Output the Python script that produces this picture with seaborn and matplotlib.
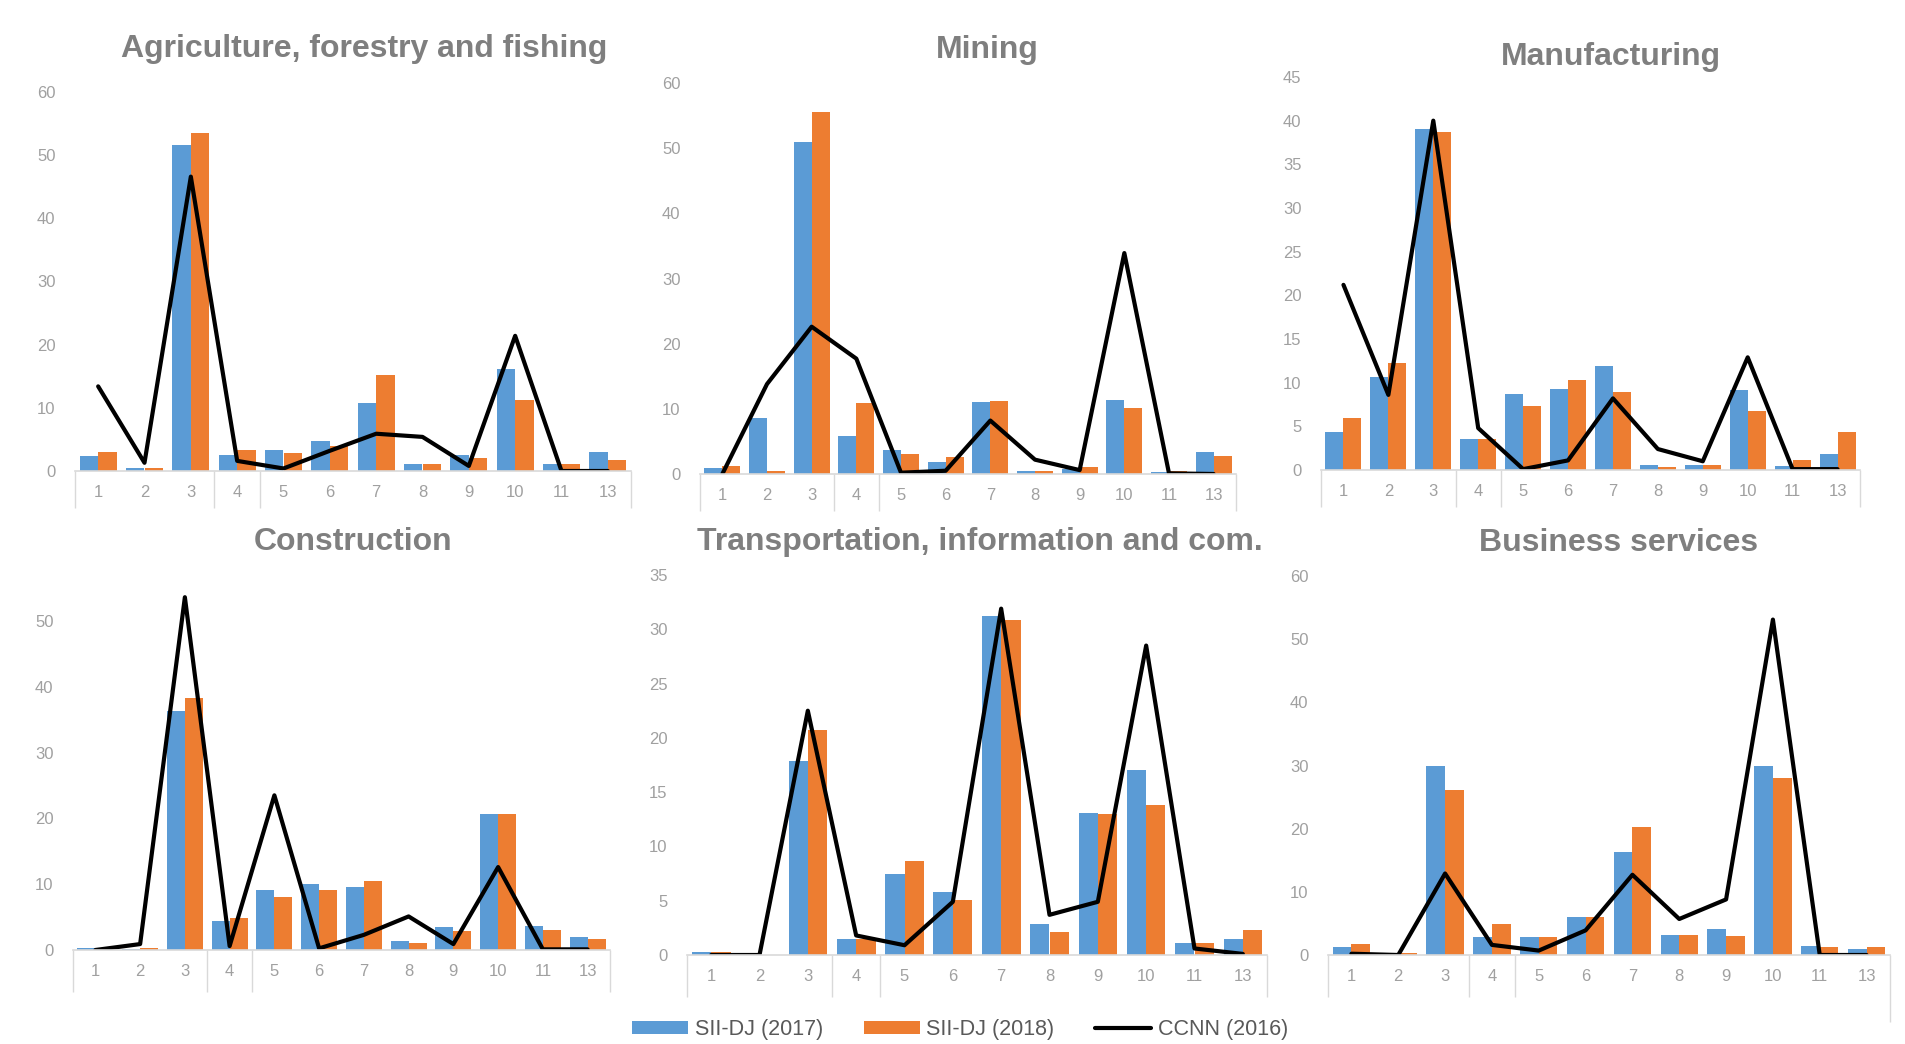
import seaborn as sns
import matplotlib.pyplot as plt
import pandas as pd

# categories on the x axis (12 is absent in the source)
cats = ['1', '2', '3', '4', '5', '6', '7', '8', '9', '10', '11', '13']

agri_2017 = [2.4, 0.5, 51.6, 2.5, 3.3, 4.7, 10.7, 1.1, 2.5, 16.2, 1.1, 3.0]
agri_2018 = [3.0, 0.5, 53.5, 3.3, 2.8, 4.0, 15.2, 1.1, 2.1, 11.2, 1.1, 1.7]
agri_ccnn = [13.4, 1.3, 46.6, 1.6, 0.4, 3.2, 5.9, 5.4, 0.8, 21.4, 0.0, 0.0]

mining_2017 = [0.9, 8.6, 50.9, 5.8, 3.7, 1.9, 11.0, 0.4, 0.8, 11.4, 0.3, 3.3]
mining_2018 = [1.3, 0.5, 55.5, 10.9, 3.1, 2.6, 11.2, 0.4, 1.0, 10.1, 0.4, 2.7]
mining_ccnn = [0.0, 13.8, 22.6, 17.7, 0.2, 0.5, 8.2, 2.2, 0.6, 33.9, 0.1, 0.0]

manuf_2017 = [4.4, 10.6, 39.0, 3.5, 8.7, 9.3, 11.9, 0.6, 0.6, 9.2, 0.5, 1.8]
manuf_2018 = [5.9, 12.2, 38.7, 3.5, 7.3, 10.3, 8.9, 0.4, 0.6, 6.7, 1.1, 4.3]
manuf_ccnn = [21.2, 8.6, 40.0, 4.8, 0.1, 1.1, 8.2, 2.4, 1.0, 12.9, 0.1, 0.1]

constr_2017 = [0.35, 0.1, 36.3, 4.4, 9.1, 10.1, 9.5, 1.3, 3.5, 20.7, 3.7, 2.0]
constr_2018 = [0.0, 0.25, 38.3, 4.8, 8.0, 9.1, 10.5, 1.1, 2.9, 20.7, 3.1, 1.7]
constr_ccnn = [0.0, 0.9, 53.6, 0.6, 23.5, 0.25, 2.3, 5.1, 0.9, 12.6, 0.1, 0.1]

transp_2017 = [0.3, 0.0, 17.9, 1.5, 7.5, 5.8, 31.2, 2.9, 13.1, 17.0, 1.1, 1.5]
transp_2018 = [0.3, 0.0, 20.7, 1.5, 8.7, 5.1, 30.9, 2.1, 13.0, 13.8, 1.1, 2.3]
transp_ccnn = [0.0, 0.0, 22.5, 1.8, 0.9, 4.9, 31.9, 3.7, 4.9, 28.5, 0.6, 0.1]

bus_2017 = [1.3, 0.0, 29.9, 2.8, 2.8, 6.0, 16.3, 3.2, 4.1, 30.0, 1.4, 0.9]
bus_2018 = [1.7, 0.3, 26.1, 4.9, 2.9, 6.0, 20.3, 3.2, 3.0, 28.1, 1.2, 1.2]
bus_ccnn = [0.2, 0.0, 12.9, 1.6, 0.7, 3.9, 12.7, 5.7, 8.8, 53.1, 0.0, 0.0]

titles = ['Agriculture, forestry and fishing', 'Mining', 'Manufacturing',
          'Construction', 'Transportation, information and com.', 'Business services']
series_names = ['SII-DJ (2017)', 'SII-DJ (2018)', 'CCNN (2016)']

panels = [
    (agri_2017, agri_2018, agri_ccnn),
    (mining_2017, mining_2018, mining_ccnn),
    (manuf_2017, manuf_2018, manuf_ccnn),
    (constr_2017, constr_2018, constr_ccnn),
    (transp_2017, transp_2018, transp_ccnn),
    (bus_2017, bus_2018, bus_ccnn),
]

# layout (pixels of a 1905x1044 canvas): axes left, right, zero-line y, top y, ymax, ystep
W, H = 1905, 1044
layout = [
    (75, 631, 471, 92, 60, 10),
    (700, 1236, 474, 83, 60, 10),
    (1321, 1860, 470, 77, 45, 5),
    (73, 610, 950, 588, 55, 10),
    (687, 1267, 955, 575, 35, 5),
    (1328, 1890, 955, 576, 60, 10),
]
title_pos = [(364, 49), (987, 50), (1611, 57), (353, 542), (980, 542), (1619, 543)]
sep_len = [37, 37, 37, 42, 42, 42]

sns.set_theme(style='white')
plt.rcParams['font.family'] = ['Liberation Sans', 'DejaVu Sans']

fig = plt.figure(figsize=(W / 100, H / 100), dpi=100)
colors = ['#5B9BD5', '#ED7D31']

axes = []
for i, (s17, s18, ccnn) in enumerate(panels):
    x0, x1, yz, yt, ymax, ystep = layout[i]
    height_px = (yz - yt) * 1.0
    ax = fig.add_axes([x0 / W, 1 - yz / H, (x1 - x0) / W, height_px / H])
    axes.append(ax)

    df = pd.DataFrame({
        'cat': cats * 2,
        'val': s17 + s18,
        'series': [series_names[0]] * len(cats) + [series_names[1]] * len(cats),
    })
    sns.barplot(data=df, x='cat', y='val', hue='series', order=cats,
                hue_order=series_names[:2], palette=colors, saturation=1,
                width=0.8, errorbar=None, linewidth=0, ax=ax)
    sns.lineplot(x=cats, y=ccnn, color='black', linewidth=3.0,
                 label=series_names[2], ax=ax)

    ax.set_ylim(0, ymax)
    ax.set_xlim(-0.5, len(cats) - 0.5)
    ax.set_yticks(range(0, ymax + 1, ystep) if ymax % ystep == 0 else range(0, ymax, ystep))
    ax.set_xlabel('')
    ax.set_ylabel('')
    for side in ['top', 'right', 'left']:
        ax.spines[side].set_visible(False)
    ax.spines['bottom'].set_color('#D9D9D9')
    ax.spines['bottom'].set_linewidth(1.2)
    ax.tick_params(axis='both', length=0, labelcolor='#A0A0A0', labelsize=12)
    ax.tick_params(axis='x', pad=10)
    ax.tick_params(axis='y', pad=14)

    # category group separators below the axis
    frac = sep_len[i] / height_px
    ax.vlines([-0.5, 2.5, 3.5], 0, -frac, transform=ax.get_xaxis_transform(),
              colors='#D9D9D9', linewidth=1, clip_on=False)
    right_len = 67 if i == 5 else sep_len[i]
    ax.vlines([len(cats) - 0.5], 0, -right_len / height_px, transform=ax.get_xaxis_transform(),
              colors='#D9D9D9', linewidth=1, clip_on=False)

    tx, ty = title_pos[i]
    fig.text(tx / W, 1 - ty / H, titles[i], ha='center', va='center',
             fontsize=23, fontweight='bold', color='#7F7F7F')

handles, labels = axes[0].get_legend_handles_labels()
for ax in axes:
    if ax.get_legend() is not None:
        ax.get_legend().remove()

fig.legend(handles, labels, loc='center', bbox_to_anchor=(960 / W, 1 - 1030 / H),
           ncol=3, frameon=False, fontsize=15.5, labelcolor='#595959',
           handlelength=2.6, handleheight=0.55, columnspacing=1.9, handletextpad=0.3)

plt.savefig('out.png', dpi=100)
